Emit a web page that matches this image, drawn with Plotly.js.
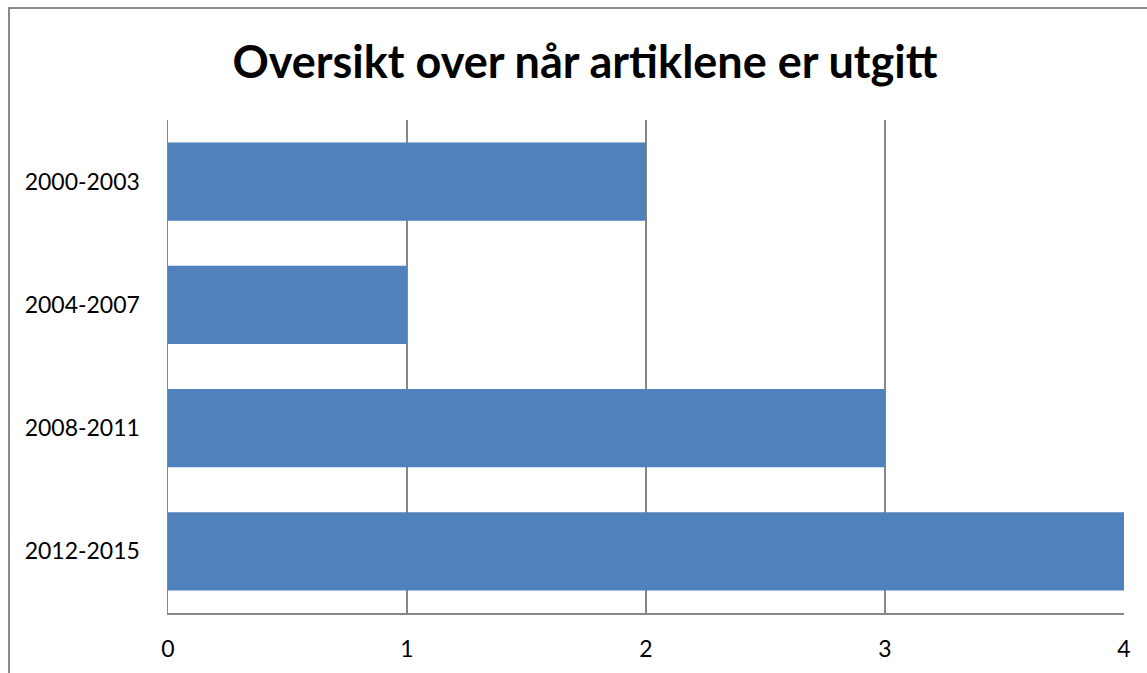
<!DOCTYPE html>
<html>
<head>
<meta charset="utf-8">
<script src="https://cdn.plot.ly/plotly-3.0.1.min.js"></script>
<style>
  html, body { margin: 0; padding: 0; background: #fff; }
  #wrap { position: relative; width: 1147px; height: 673px; overflow: hidden; }
  #frame { position: absolute; left: 8px; top: 7px; width: 1200px; height: 700px;
           border-top: 2px solid #8a8a8a; border-left: 2px solid #8a8a8a; pointer-events: none; }
  #chart { position: absolute; left: 0; top: 0; width: 1147px; height: 673px; }
</style>
</head>
<body>
<div id="wrap">
  <div id="chart"></div>
  <div id="frame"></div>
</div>
<script>
const categories = ["2000-2003", "2004-2007", "2008-2011", "2012-2015"];
const values = [2, 1, 3, 4];
const xTicks = [0, 1, 2, 3, 4];

const trace = {
  type: "bar",
  orientation: "h",
  y: categories,
  x: values,
  width: 0.634,
  marker: { color: "#4F81BD", line: { width: 0 } },
  hoverinfo: "x+y"
};

const layout = {
  width: 1147,
  height: 673,
  margin: { l: 168, r: 23, t: 120, b: 60, pad: 0 },
  paper_bgcolor: "#ffffff",
  plot_bgcolor: "#ffffff",
  showlegend: false,
  font: { family: "Lato, 'Open Sans', sans-serif", color: "#000000" },
  title: {
    text: "<b>Oversikt over når artiklene er utgitt</b>",
    font: { family: "Lato, 'Open Sans', sans-serif", size: 45, color: "#000000" },
    x: 0.51, xanchor: "center",
    y: 0.908, yanchor: "middle"
  },
  xaxis: {
    range: [0, 4],
    tickvals: xTicks,
    ticktext: xTicks.map(String),
    showgrid: true,
    gridcolor: "#878787",
    gridwidth: 1.3,
    zeroline: false,
    showline: true,
    linecolor: "#878787",
    linewidth: 1.5,
    mirror: false,
    ticks: "outside",
    ticklen: 15,
    tickcolor: "rgba(0,0,0,0)",
    tickfont: { size: 23, color: "#000000" },
    fixedrange: true
  },
  yaxis: {
    type: "category",
    categoryorder: "array",
    categoryarray: categories,
    autorange: "reversed",
    showgrid: false,
    zeroline: false,
    showline: true,
    linecolor: "#878787",
    linewidth: 1.5,
    ticks: "outside",
    ticklen: 22,
    tickcolor: "rgba(0,0,0,0)",
    tickfont: { size: 23, color: "#000000" },
    fixedrange: true
  }
};

Plotly.newPlot("chart", [trace], layout, { displayModeBar: false, staticPlot: true });
</script>
</body>
</html>
